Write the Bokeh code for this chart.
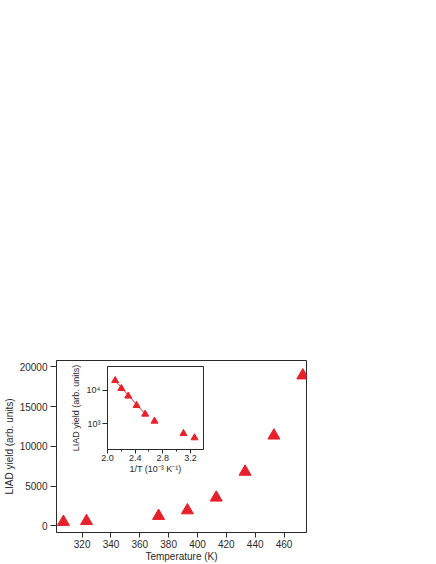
from bokeh.plotting import figure
from bokeh.models import (Range1d, SingleIntervalTicker, FixedTicker,
                          NumeralTickFormatter, CustomJSTickFormatter)
from bokeh.embed import file_html
from bokeh.resources import INLINE

# Main panel data
temps = [307, 323, 373, 393, 413, 433, 453, 473]
yields = [500, 600, 1250, 1950, 3550, 6800, 11350, 18900]

# Inset data (Arrhenius plot)
inv_t = [2.11, 2.20, 2.30, 2.42, 2.545, 2.68, 3.10, 3.26]
inset_yield = [19900, 11500, 6800, 3550, 1950, 1200, 510, 380]
fit_x = [2.11, 2.545]
fit_y = [19900, 1950]

RED = "#e8202a"
INK = "#2a2a2a"
FONT = "Liberation Sans"


def style_axes(fig, tick_size, label_size):
    fig.xgrid.grid_line_color = None
    fig.ygrid.grid_line_color = None
    fig.outline_line_color = INK
    fig.outline_line_width = 1
    for ax in list(fig.xaxis) + list(fig.yaxis):
        ax.axis_line_color = INK
        ax.major_tick_line_color = INK
        ax.minor_tick_line_color = INK
        ax.major_tick_in = 0
        ax.minor_tick_in = 0
        ax.major_label_text_font = FONT
        ax.major_label_text_font_size = tick_size
        ax.major_label_text_color = INK
        ax.axis_label_text_font = FONT
        ax.axis_label_text_font_size = label_size
        ax.axis_label_text_font_style = "normal"
        ax.axis_label_text_color = INK


p = figure(width=436, height=564, output_backend="svg", toolbar_location=None,
           x_range=Range1d(302.2, 475.6), y_range=Range1d(-830, 20780),
           min_border_left=53, min_border_right=130, min_border_top=360,
           min_border_bottom=30,
           styles={"position": "absolute", "left": "0px", "top": "0px"})
p.triangle(temps, yields, size=12, fill_color=RED, line_color=RED)
style_axes(p, "10px", "10px")
p.xaxis.ticker = SingleIntervalTicker(interval=20, num_minor_ticks=0)
p.yaxis.ticker = SingleIntervalTicker(interval=5000, num_minor_ticks=0)
p.xaxis.major_tick_out = 5
p.yaxis.major_tick_out = 6
p.xaxis.major_label_standoff = 2
p.yaxis.major_label_standoff = 3
p.xaxis.axis_label_standoff = 0
p.yaxis.axis_label_standoff = 2
p.xaxis.minor_tick_out = 0
p.yaxis.minor_tick_out = 0
p.xaxis.axis_label = "Temperature (K)"
p.yaxis.axis_label = "LIAD yield (arb. units)"

inset = figure(width=150, height=116, output_backend="svg", toolbar_location=None,
               x_range=Range1d(1.999, 3.39), y_range=Range1d(169, 52500),
               y_axis_type="log",
               min_border_left=47, min_border_right=7, min_border_top=6,
               min_border_bottom=27,
               border_fill_alpha=0, background_fill_color="white",
               styles={"position": "absolute", "left": "60px", "top": "360px"})
inset.line(fit_x, fit_y, line_color=RED, line_width=1)
inset.triangle(inv_t, inset_yield, size=7, fill_color=RED, line_color=RED)
style_axes(inset, "9px", "9px")
inset.xaxis.ticker = SingleIntervalTicker(interval=0.4, num_minor_ticks=2)
inset.xaxis.formatter = NumeralTickFormatter(format="0.0")
inset.yaxis.ticker = FixedTicker(ticks=[1000, 10000], minor_ticks=[])
inset.yaxis.formatter = CustomJSTickFormatter(code="""
const sup = {"0":"\u2070","1":"\u00b9","2":"\u00b2","3":"\u00b3","4":"\u2074",
             "5":"\u2075","6":"\u2076","7":"\u2077","8":"\u2078","9":"\u2079"};
const e = String(Math.round(Math.log10(tick)));
return "10" + e.split("").map(c => sup[c]).join("");
""")
inset.xaxis.major_tick_out = 4
inset.xaxis.minor_tick_out = 2
inset.yaxis.major_tick_out = 5
inset.xaxis.major_label_standoff = 1
inset.yaxis.major_label_standoff = 2
inset.xaxis.axis_label_standoff = 0
inset.yaxis.axis_label_standoff = 3
inset.xaxis.axis_label = "1/T (10\u207b\u00b3 K\u207b\u00b9)"
inset.yaxis.axis_label = "LIAD yield (arb. units)"

open("out.html", "w").write(file_html([p, inset], INLINE))
